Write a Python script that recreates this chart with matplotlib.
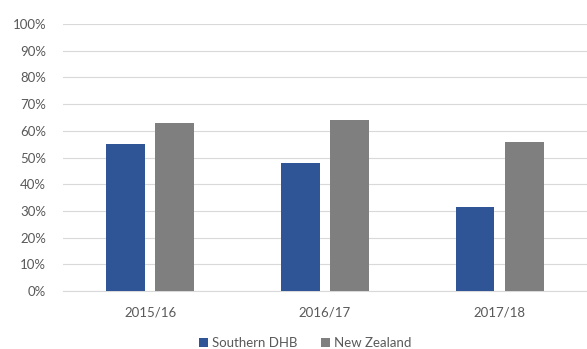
import matplotlib
matplotlib.use("Agg")
import matplotlib.pyplot as plt
import numpy as np

# data
years = ["2015/16", "2016/17", "2017/18"]
southern = [0.55, 0.48, 0.313]
nz = [0.63, 0.64, 0.56]

plt.rcParams['font.family'] = ['Lato', 'DejaVu Sans']
txt = '#595959'

fig = plt.figure(figsize=(5.87, 3.49), dpi=100)
ax = fig.add_axes([0.107, 0.166, 0.893, 0.765])

x = np.arange(len(years))
w = 0.223
off = 0.141
ax.bar(x - off, southern, w, color='#2F5597', label='Southern DHB', zorder=3)
ax.bar(x + off, nz, w, color='#7F7F7F', label='New Zealand', zorder=3)

ax.set_xlim(-0.5, 2.5)
ax.set_ylim(0, 1)
ax.set_yticks(np.arange(0, 1.01, 0.1))
ax.set_yticklabels(['%d%%' % round(v * 100) for v in np.arange(0, 1.01, 0.1)])
ax.set_xticks(x)
ax.set_xticklabels(years)
ax.tick_params(axis='both', length=0, labelsize=9.5, colors=txt)
ax.tick_params(axis='x', pad=11)
ax.tick_params(axis='y', pad=12)
ax.grid(axis='y', color='#d9d9d9', linewidth=0.8, zorder=0)
for s in ['top', 'right', 'left']:
    ax.spines[s].set_visible(False)
ax.spines['bottom'].set_color('#d9d9d9')

leg = fig.legend(loc='lower center', bbox_to_anchor=(0.52, -0.035), ncol=2,
                 frameon=False, fontsize=9.5, handlelength=0.7, handleheight=0.7,
                 handletextpad=0.3, columnspacing=1.8)
for t in leg.get_texts():
    t.set_color(txt)

fig.savefig('out.png', dpi=100)
